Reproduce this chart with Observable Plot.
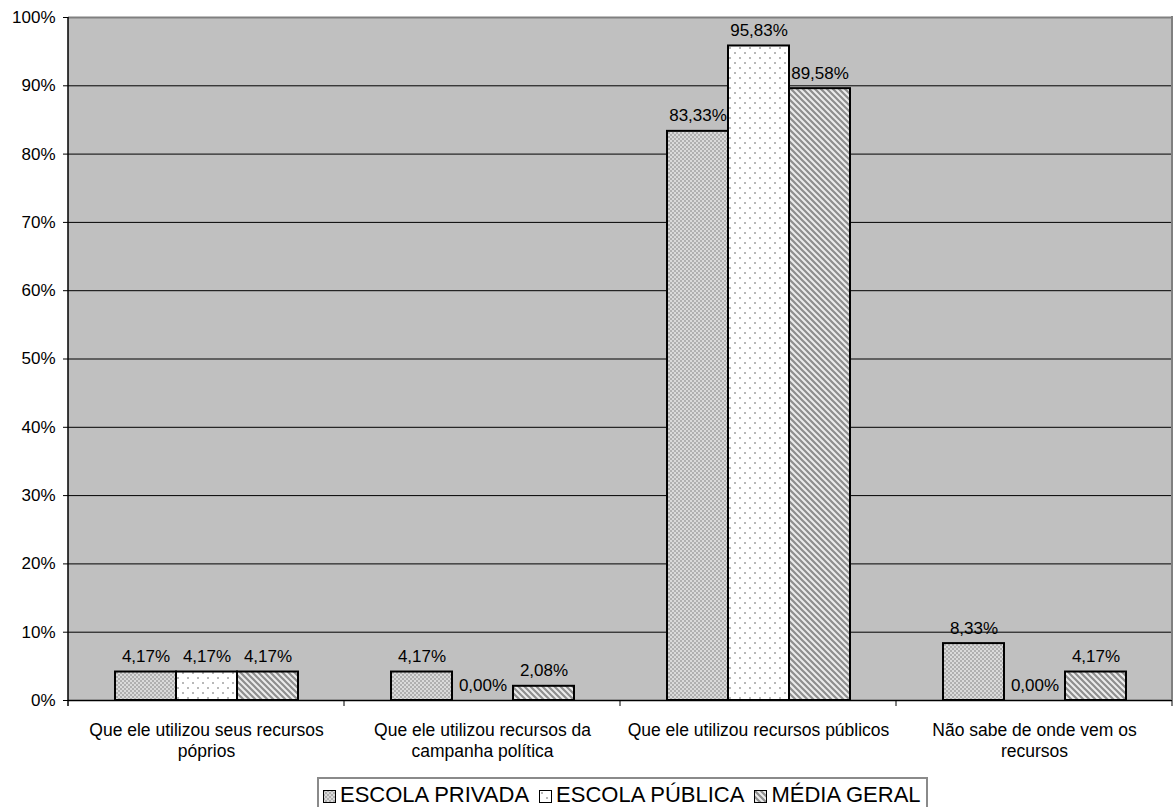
<!DOCTYPE html>
<html>
<head>
<meta charset="utf-8">
<script src="https://cdn.jsdelivr.net/npm/d3@7"></script>
<script src="https://cdn.jsdelivr.net/npm/@observablehq/plot@0.6"></script>
<style>
  html, body { margin: 0; padding: 0; background: #fff; }
  body { font-family: "Liberation Sans", Arial, sans-serif; }
  #chart { position: relative; width: 1174px; height: 807px; overflow: hidden; }
  #chart > svg.plot { position: absolute; left: 0; top: 0; }
  #legend {
    position: absolute; left: 317px; top: 777px;
    border: 2px solid #8a8a8a; padding: 4px 5px 10px 4px;
    white-space: nowrap; font-size: 22px; line-height: 24px; color: #000;
    background: #fff;
  }
  #legend .item { display: inline-block; margin-right: 10px; }
  #legend .item:last-child { margin-right: 0; }
  #legend svg { vertical-align: -1px; margin-right: 4px; }
</style>
</head>
<body>
<!-- fill patterns shared by the bars and the legend swatches -->
<svg width="0" height="0" style="position:absolute">
  <defs>
    <pattern id="pat-privada" width="4" height="4" patternUnits="userSpaceOnUse">
      <rect width="4" height="4" fill="#dadada"></rect>
      <rect x="0" y="0" width="2" height="2" fill="#b0b0b0"></rect>
      <rect x="2" y="2" width="2" height="2" fill="#b0b0b0"></rect>
    </pattern>
    <pattern id="pat-publica" width="10" height="10" patternUnits="userSpaceOnUse">
      <rect width="10" height="10" fill="#ffffff"></rect>
      <rect x="2" y="2" width="2" height="2" fill="#b8b8b8"></rect>
      <rect x="7" y="7" width="2" height="2" fill="#b8b8b8"></rect>
    </pattern>
    <pattern id="pat-media" width="6" height="6" patternUnits="userSpaceOnUse">
      <rect width="6" height="6" fill="#ececec"></rect>
      <path d="M-1,-1L7,7M-1,5L1,7M5,-1L7,1" stroke="#8e8e8e" stroke-width="2.2"></path>
    </pattern>
  </defs>
</svg>
<div id="chart"></div>
<script>
// Categories (multi-line labels), series and values in percent
const categories = [
  "Que ele utilizou seus recursos\npóprios",
  "Que ele utilizou recursos da\ncampanha política",
  "Que ele utilizou recursos públicos",
  "Não sabe de onde vem os\nrecursos"
];
const series = ["ESCOLA PRIVADA", "ESCOLA PÚBLICA", "MÉDIA GERAL"];
const escolaPrivada = [4.17, 4.17, 83.33, 8.33];
const escolaPublica = [4.17, 0.00, 95.83, 0.00];
const mediaGeral = [4.17, 2.08, 89.58, 4.17];
const yTicks = [0, 10, 20, 30, 40, 50, 60, 70, 80, 90, 100];
const patterns = ["url(#pat-privada)", "url(#pat-publica)", "url(#pat-media)"];

const seriesValues = [escolaPrivada, escolaPublica, mediaGeral];
const rows = categories.flatMap((category, i) =>
  series.map((s, j) => ({category, series: s, value: seriesValues[j][i]}))
);

const pct = v => v.toFixed(2).replace(".", ",") + "%";

const plot = Plot.plot({
  width: 1174,
  height: 777,
  marginLeft: 68,
  marginRight: 2,
  marginTop: 17,
  marginBottom: 77,
  style: {
    fontFamily: "'Liberation Sans', Arial, sans-serif",
    fontSize: "17px",
    color: "#000",
    background: "transparent",
    overflow: "visible"
  },
  fx: {domain: categories, padding: 0, axis: null},
  x: {domain: series, paddingInner: 0, paddingOuter: 0.74, axis: null},
  y: {
    domain: [0, 100],
    ticks: yTicks,
    tickFormat: d => d + "%",
    tickSize: 5,
    tickPadding: 8,
    label: null
  },
  color: {domain: series, range: patterns},
  marks: [
    Plot.ruleY(yTicks.filter(d => d > 0 && d < 100), {stroke: "#000", strokeWidth: 1}),
    Plot.ruleY([100], {stroke: "#808080", strokeWidth: 2}),
    Plot.barY(rows, {
      fx: "category", x: "series", y: "value",
      fill: "series", stroke: "#000", strokeWidth: 2
    }),
    Plot.text(rows, {
      fx: "category", x: "series", y: "value",
      text: d => pct(d.value), lineAnchor: "bottom", dy: -10, fill: "#000"
    }),
    Plot.ruleY([0], {stroke: "#000", strokeWidth: 1.5}),
    Plot.text(categories, {
      fx: d => d, text: d => d, frameAnchor: "bottom",
      lineAnchor: "top", dy: 21, lineHeight: 1.2, fontSize: 17.5, fill: "#000"
    })
  ]
});
plot.classList.add("plot");

// Grey plot area, axis line on the left, grey border on the right,
// and group separator ticks below the baseline
const fx = plot.scale("fx");
const y = plot.scale("y");
const y0 = y.apply(0), y100 = y.apply(100);
const edges = categories.map(c => fx.apply(c));
edges.push(fx.apply(categories[categories.length - 1]) + fx.bandwidth);
const svg = d3.select(plot);
svg.insert("rect", "g")
  .attr("x", edges[0]).attr("y", y100)
  .attr("width", edges[edges.length - 1] - edges[0]).attr("height", y0 - y100)
  .attr("fill", "#c0c0c0");
const g = svg.append("g");
g.append("line")
  .attr("x1", edges[edges.length - 1]).attr("x2", edges[edges.length - 1])
  .attr("y1", y100 - 1).attr("y2", y0)
  .attr("stroke", "#808080").attr("stroke-width", 2);
g.append("line")
  .attr("x1", edges[0]).attr("x2", edges[0])
  .attr("y1", y100).attr("y2", y0 + 6)
  .attr("stroke", "#000").attr("stroke-width", 1.5);
g.selectAll("line.sep").data(edges.slice(1)).join("line")
  .attr("class", "sep")
  .attr("x1", d => d).attr("x2", d => d)
  .attr("y1", y0).attr("y2", y0 + 6)
  .attr("stroke", "#000").attr("stroke-width", 1);

const chart = document.getElementById("chart");
chart.appendChild(plot);

// Legend below the plot
const legend = document.createElement("div");
legend.id = "legend";
series.forEach((s, j) => {
  const item = document.createElement("span");
  item.className = "item";
  item.innerHTML =
    `<svg width="13" height="13"><rect x="0.5" y="0.5" width="12" height="12" fill="${patterns[j]}" stroke="#000" stroke-width="1"></rect></svg>` +
    `<span>${s}</span>`;
  legend.appendChild(item);
});
chart.appendChild(legend);
</script>
</body>
</html>
